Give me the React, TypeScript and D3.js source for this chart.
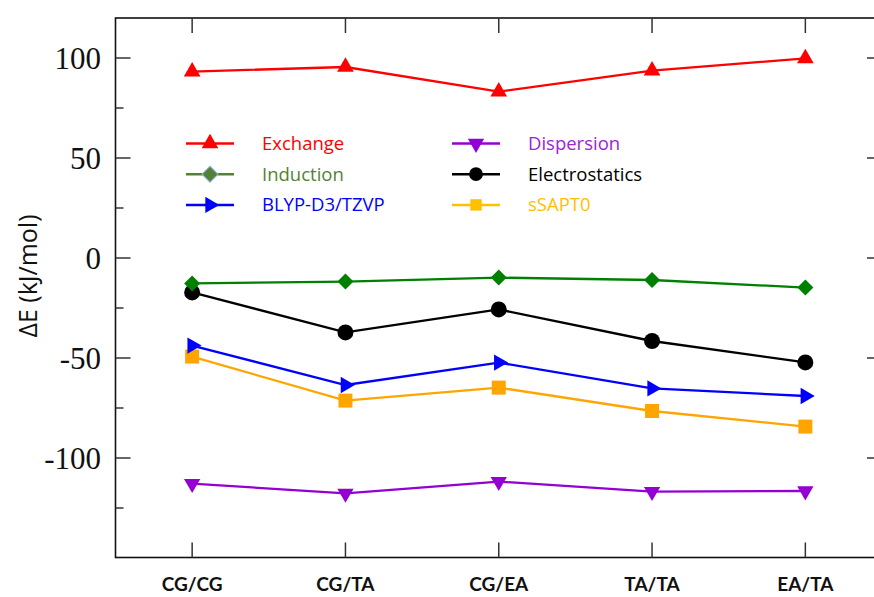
import * as d3 from "d3";

const categories = ["CG/CG", "CG/TA", "CG/EA", "TA/TA", "EA/TA"];

const exchange = [93.2, 95.5, 83.2, 93.7, 99.8];
const induction = [-12.7, -11.8, -9.8, -11, -14.8];
const electrostatics = [-17.2, -37.2, -25.7, -41.5, -52.2];
const blyp = [-43.8, -63.5, -52.3, -65.2, -69];
const ssapt0 = [-49.3, -71.3, -64.8, -76.5, -84.3];
const dispersion = [-112.8, -117.7, -111.8, -116.8, -116.5];

const yMajor = [100, 50, 0, -50, -100];
const yMinor = [75, 25, -25, -75, -125];

type Series = {
  name: string;
  values: number[];
  color: string;
  legendColor: string;
  textColor: string;
  shape: string;
  size: number;
  rotate?: number;
  col: number;
  row: number;
};

// draw order: bottom first
const series: Series[] = [
  { name: "sSAPT0", values: ssapt0, color: "#ffa500", legendColor: "#ffc000", textColor: "#ffc000", shape: "square", size: 196, col: 1, row: 2 },
  { name: "Electrostatics", values: electrostatics, color: "#000000", legendColor: "#000000", textColor: "#000000", shape: "circle", size: 200, col: 1, row: 1 },
  { name: "Dispersion", values: dispersion, color: "#9400d3", legendColor: "#9400d3", textColor: "#9c23d9", shape: "triangle", size: 115, rotate: 180, col: 1, row: 0 },
  { name: "BLYP-D3/TZVP", values: blyp, color: "#0000ff", legendColor: "#0000ff", textColor: "#0000ff", shape: "triangle", size: 115, rotate: 90, col: 0, row: 2 },
  { name: "Induction", values: induction, color: "#008000", legendColor: "#548235", textColor: "#548235", shape: "diamond", size: 128, col: 0, row: 1 },
  { name: "Exchange", values: exchange, color: "#ff0000", legendColor: "#ff0000", textColor: "#ff0000", shape: "triangle", size: 121, col: 0, row: 0 },
];

const W = 874;
const H = 597;
const left = 115.5;
const right = 882;
const top = 18;
const bottom = 557.5;

const x = d3.scalePoint<string>().domain(categories).range([left, right]).padding(0.5);
const y = d3.scaleLinear().domain([-150, 120]).range([558, 18]);

const symbolPath = (shape: string, size: number) => {
  if (shape === "square") return d3.symbol(d3.symbolSquare, size)()!;
  if (shape === "circle") return d3.symbol(d3.symbolCircle, size)()!;
  if (shape === "diamond") return d3.symbol(d3.symbolSquare, size)()!;
  return d3.symbol(d3.symbolTriangle, size)()!;
};

const markerTransform = (s: Series, px: number, py: number) => {
  const rot = s.shape === "diamond" ? 45 : s.rotate ?? 0;
  return `translate(${px},${py}) rotate(${rot})`;
};

const sans = "'Open Sans', 'DejaVu Sans', sans-serif";
const serif = "'Liberation Serif', 'Times New Roman', 'DejaVu Serif', serif";

export default function App() {
  const line = d3
    .line<number>()
    .x((_, i) => x(categories[i])!)
    .y((d) => y(d));

  const legX = [186, 452];
  const legY = [143.5, 174.2, 204.9];

  return (
    <svg
      width={W}
      height={H}
      style={{ position: "absolute", left: 0, top: 0, display: "block", background: "#fff" }}
    >
      {/* frame */}
      <rect x={left} y={top} width={right - left} height={bottom - top} fill="none" stroke="#111" strokeWidth={1.6} />

      {/* y ticks */}
      {yMajor.map((v) => (
        <g key={"M" + v}>
          <line x1={left} x2={left + 15} y1={y(v)} y2={y(v)} stroke="#333" strokeWidth={1.5} />
          <line x1={right} x2={right - 15} y1={y(v)} y2={y(v)} stroke="#333" strokeWidth={1.5} />
          <text
            x={101}
            y={y(v)}
            dy="0.34em"
            textAnchor="end"
            style={{ fontFamily: serif }}
            fontSize={31}
            fill="#111"
          >
            {v}
          </text>
        </g>
      ))}
      {yMinor.map((v) => (
        <g key={"m" + v}>
          <line x1={left} x2={left + 8} y1={y(v)} y2={y(v)} stroke="#333" strokeWidth={1.5} />
          <line x1={right} x2={right - 8} y1={y(v)} y2={y(v)} stroke="#333" strokeWidth={1.5} />
        </g>
      ))}

      {/* x ticks */}
      {categories.map((c) => (
        <g key={c}>
          <line x1={x(c)} x2={x(c)} y1={bottom} y2={bottom - 15} stroke="#333" strokeWidth={1.5} />
          <line x1={x(c)} x2={x(c)} y1={top} y2={top + 15} stroke="#333" strokeWidth={1.5} />
          <text
            x={x(c)}
            y={591}
            textAnchor="middle"
            style={{ fontFamily: "Lato, 'Open Sans', sans-serif" }}
            fontWeight={700}
            fontSize={19}
            fill="#111"
          >
            {c}
          </text>
        </g>
      ))}

      {/* y title */}
      <text
        transform="translate(37,276) rotate(-90)"
        textAnchor="middle"
        style={{ fontFamily: sans }}
        fontSize={25}
        fill="#111"
      >
        ΔE (kJ/mol)
      </text>

      {/* series lines */}
      {series.map((s) => (
        <path key={s.name + "l"} d={line(s.values)!} fill="none" stroke={s.color} strokeWidth={2.3} />
      ))}
      {/* markers */}
      {series.map((s) => (
        <g key={s.name + "m"}>
          {s.values.map((v, i) => (
            <path
              key={i}
              d={symbolPath(s.shape, s.size)}
              transform={markerTransform(s, x(categories[i])!, y(v))}
              fill={s.color}
            />
          ))}
        </g>
      ))}

      {/* legend */}
      {series.map((s) => {
        const lx = legX[s.col];
        const ly = legY[s.row];
        return (
          <g key={s.name + "leg"}>
            <line x1={lx} x2={lx + 48} y1={ly} y2={ly} stroke={s.legendColor} strokeWidth={2.5} />
            <path
              d={symbolPath(s.shape, s.shape === "square" ? 130 : s.shape === "circle" ? 150 : s.size)}
              transform={markerTransform(s, lx + 24, ly)}
              fill={s.legendColor}
              stroke={s.shape === "diamond" ? "#8fb0d8" : "none"}
              strokeWidth={1}
            />
            <text x={lx + 76} y={ly + 6.5} style={{ fontFamily: sans }} fontSize={18.5} fill={s.textColor}>
              {s.name}
            </text>
          </g>
        );
      })}
    </svg>
  );
}
